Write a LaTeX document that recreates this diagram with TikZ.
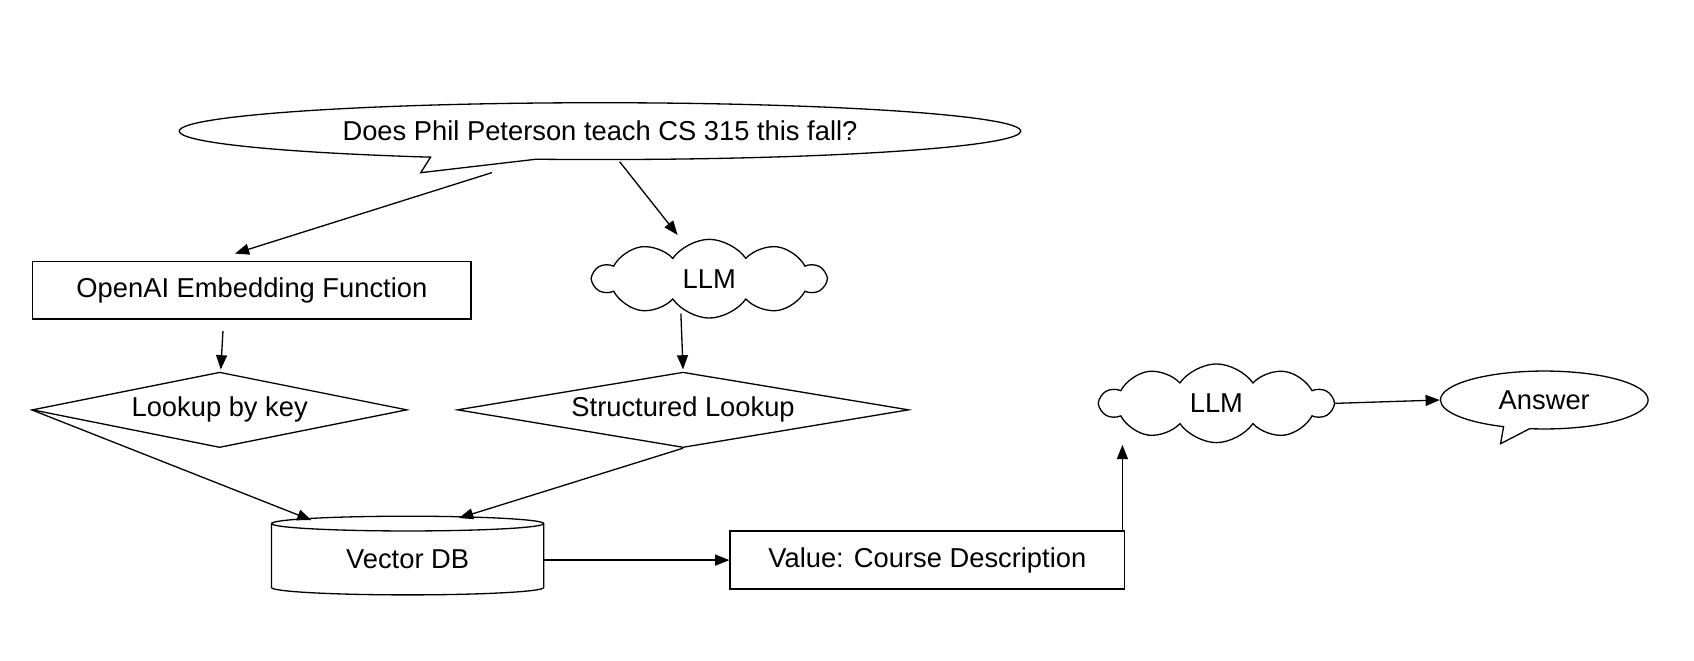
\documentclass[tikz,border=0pt]{standalone}
\usepackage{fontspec}
\setmainfont{Liberation Sans}
\usetikzlibrary{shapes.geometric,shapes.symbols,shapes.callouts,arrows.meta}
\begin{document}
\begin{tikzpicture}[x=1pt,y=-1pt,
  every node/.style={font=\fontsize{25}{30}\selectfont, line width=1.2pt, draw, inner sep=0pt},
  arr/.style={-{Triangle[length=13pt,width=10pt]}, line width=1.2pt},
  box/.style={rectangle},
  dia/.style={diamond, minimum width=#1, minimum height=69, aspect=5},
  cl/.style={cloud, cloud puffs=10, cloud puff arc=110, aspect=2.8, minimum width=212, minimum height=72},
  line width=1.2pt]
\useasboundingbox (0,0) rectangle (1550,604);
\node[ellipse callout, minimum width=770, minimum height=52, callout absolute pointer={(385,158)}] (q) at (549,120) {Does Phil Peterson teach CS 315 this fall?};
\node[box, minimum width=401, minimum height=53] (emb) at (230.5,265.5) {OpenAI Embedding Function};
\node[cl] (llm1) at (649,255) {LLM};
\node[dia=343] (lk) at (201,375) {Lookup by key};
\node[dia=413] (sl) at (625,375) {Structured Lookup};
\node[cylinder, shape border rotate=90, aspect=0.12, minimum width=249, minimum height=72] (db) at (373,512) {Vector DB};
\node[box, minimum width=361, minimum height=53] (val) at (848.5,512.5) {Value: Course Description};
\node[cl] (llm2) at (1113,369) {LLM};
\node[ellipse callout, minimum width=190, minimum height=53, callout absolute pointer={(1373,406)}] (ans) at (1413,366) {Answer};
\coordinate (a1) at (450,158); \coordinate (a1e) at (215,232);
\coordinate (a2) at (567,148); \coordinate (a2e) at (620,215);
\coordinate (a3) at (204,303); \coordinate (a3e) at (202,338);
\coordinate (a4) at (623,287); \coordinate (a4e) at (625,338);
\coordinate (a5e) at (285,476); \coordinate (a6e) at (420,474);
\coordinate (a8) at (1027,486); \coordinate (a8e) at (1027,407);
\draw[arr] (a1) -- (a1e);
\draw[arr] (a2) -- (a2e);
\draw[arr] (a3) -- (a3e);
\draw[arr] (a4) -- (a4e);
\draw[arr] (lk.west) -- (a5e);
\draw[arr] (sl.south) -- (a6e);
\draw[arr] (db.east |- val.west) -- (val.west);
\draw[arr] (a8) -- (a8e);
\draw[arr] (llm2.east) -- (ans.west);
\end{tikzpicture}
\end{document}
